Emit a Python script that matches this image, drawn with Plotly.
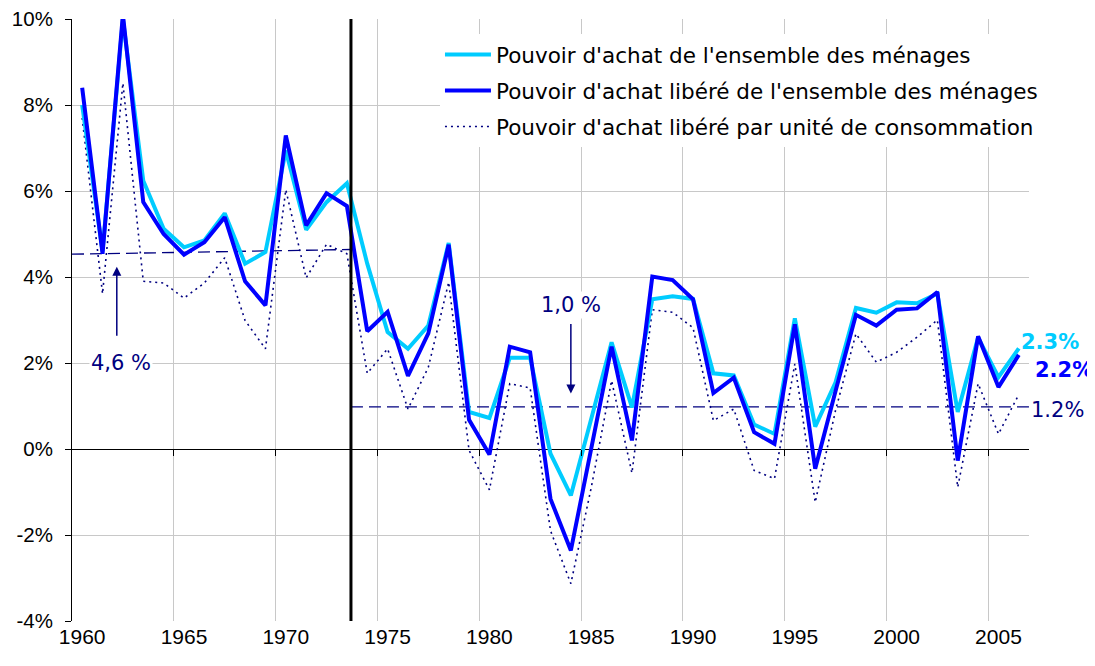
import plotly.graph_objects as go

years = list(range(1960, 2007))
pa_ensemble = [8.0, 4.6, 10.0, 6.24, 5.12, 4.69, 4.85, 5.48, 4.31, 4.58, 6.94, 5.10, 5.74, 6.18,
               4.31, 2.72, 2.33, 2.87, 4.79, 0.86, 0.72, 2.12, 2.12, -0.11, -1.08, 0.74, 2.48, 0.97,
               3.48, 3.55, 3.49, 1.76, 1.71, 0.57, 0.35, 3.04, 0.52, 1.55, 3.28, 3.17, 3.41, 3.39, 3.61,
               0.86, 2.59, 1.67, 2.34]
pa_libere = [8.40, 4.54, 10.1, 5.74, 5.00, 4.52, 4.81, 5.39, 3.90, 3.34, 7.29, 5.20, 5.95, 5.65,
             2.74, 3.19, 1.70, 2.69, 4.75, 0.68, -0.13, 2.38, 2.25, -1.16, -2.36, 0.0, 2.38, 0.20,
             4.01, 3.93, 3.48, 1.30, 1.66, 0.39, 0.12, 2.90, -0.46, 1.35, 3.12, 2.87, 3.24, 3.27, 3.65,
             -0.27, 2.62, 1.44, 2.19]
pa_uc = [7.7, 3.61, 8.51, 3.90, 3.86, 3.51, 3.86, 4.45, 2.99, 2.33, 6.03, 3.98, 4.76, 4.54,
         1.76, 2.33, 0.93, 1.90, 3.88, -0.03, -0.95, 1.52, 1.42, -1.90, -3.13, -0.9, 1.59, -0.56,
         3.24, 3.18, 2.82, 0.66, 0.93, -0.50, -0.69, 1.98, -1.24, 0.9, 2.68, 2.02, 2.25, 2.6, 3.00,
         -0.89, 1.52, 0.35, 1.27]
series_names = ["Pouvoir d'achat de l'ensemble des ménages",
                "Pouvoir d'achat libéré de l'ensemble des ménages",
                "Pouvoir d'achat libéré par unité de consommation"]
end_labels = ["2.3%", "2.2%", "1.2%"]

break_year = 1973.2
period1_x = [1959.5, break_year]
period1_mean = [4.53, 4.64]
period2_x = [break_year, 2006.5]
period2_mean = [0.98, 0.98]
mean_labels = ["4,6 %", "1,0 %"]

x_label_years = list(range(1960, 2006, 5))
x_grid_years = [y + 0.5 for y in range(1964, 2006, 5)]
y_ticks = list(range(-4, 11, 2))
y_ticktext = [f"{v}%" for v in y_ticks]

CYAN = "#00CCFF"
BLUE = "#0000FF"
NAVY = "#000080"
AXFONT = "Liberation Sans, Arial, sans-serif"
TXFONT = "DejaVu Sans, Liberation Sans, sans-serif"

fig = go.Figure()
fig.add_trace(go.Scatter(x=period1_x, y=period1_mean, mode="lines", showlegend=False,
                         line=dict(color=NAVY, width=1.3, dash="12px,6px"), hoverinfo="skip"))
fig.add_trace(go.Scatter(x=period2_x, y=period2_mean, mode="lines", showlegend=False,
                         line=dict(color=NAVY, width=1.3, dash="12px,6px"), hoverinfo="skip"))
fig.add_trace(go.Scatter(x=years, y=pa_uc, mode="lines", name=series_names[2], legendrank=3,
                         legendgroup="c", line=dict(color=NAVY, width=1.6, dash="2px,4px")))
fig.add_trace(go.Scatter(x=years, y=pa_ensemble, mode="lines", name=series_names[0], legendrank=1,
                         legendgroup="a", line=dict(color=CYAN, width=4)))
fig.add_trace(go.Scatter(x=years, y=pa_libere, mode="lines", name=series_names[1], legendrank=2,
                         legendgroup="b", line=dict(color=BLUE, width=4)))
# invisible trace to carry the tick marks along the zero line
fig.add_trace(go.Scatter(x=[years[0]], y=[0], xaxis="x2", mode="markers", showlegend=False,
                         marker=dict(opacity=0), hoverinfo="skip"))

fig.add_shape(type="line", xref="x", yref="paper", x0=break_year, x1=break_year, y0=0, y1=1,
              line=dict(color="black", width=3), layer="above")

# mean annotations
fig.add_annotation(x=1961.7, y=4.24, ax=1961.7, ay=2.6, axref="x", ayref="y", xref="x", yref="y",
                   text="", showarrow=True, arrowhead=2, arrowsize=1.2, arrowwidth=1.5, arrowcolor=NAVY)
fig.add_annotation(x=1961.9, y=2.0, text=mean_labels[0], showarrow=False, bgcolor="white",
                   font=dict(size=21, color=NAVY, family=TXFONT))
fig.add_annotation(x=1984.0, y=1.29, ax=1984.0, ay=2.94, axref="x", ayref="y", xref="x", yref="y",
                   text="", showarrow=True, arrowhead=2, arrowsize=1.2, arrowwidth=1.5, arrowcolor=NAVY)
fig.add_annotation(x=1984.0, y=3.34, text=mean_labels[1], showarrow=False, bgcolor="white",
                   font=dict(size=21, color=NAVY, family=TXFONT))

# end labels (right of the plot area)
fig.add_annotation(x=1.022, xref="paper", xanchor="center", y=2.48, yref="y",
                   text=f"<b>{end_labels[0]}</b>", showarrow=False,
                   font=dict(size=21, color=CYAN, family=TXFONT))
fig.add_annotation(x=1.0366, xref="paper", xanchor="center", y=1.83, yref="y",
                   text=f"<b>{end_labels[1]}</b>", showarrow=False,
                   font=dict(size=21, color=BLUE, family=TXFONT))
fig.add_annotation(x=1.0303, xref="paper", xanchor="center", y=0.90, yref="y",
                   text=end_labels[2], showarrow=False,
                   font=dict(size=21, color=NAVY, family=TXFONT))

fig.update_layout(
    width=1087, height=658,
    margin=dict(l=64, r=66, t=11, b=45, autoexpand=False),
    paper_bgcolor="white", plot_bgcolor="white",
    font=dict(family=AXFONT, size=20, color="black"),
    xaxis=dict(range=[1959.5, 2006.5], tickmode="array", tickvals=x_label_years,
               ticktext=[str(y) for y in x_label_years], ticks="", showgrid=False,
               zeroline=False, showline=False, ticklabelstandoff=1, automargin=False,
               ticklabeloverflow="allow", tickfont=dict(size=21),
               minor=dict(tickmode="array", tickvals=x_grid_years, showgrid=True,
                          gridcolor="#C8C8C8", gridwidth=1, ticks="")),
    xaxis2=dict(range=[1959.5, 2006.5], overlaying="x", anchor="free", position=4 / 14,
                side="bottom", tickmode="array", tickvals=x_grid_years, ticks="outside",
                ticklen=6, tickcolor="black", showticklabels=False, showgrid=False,
                zeroline=False, showline=False, automargin=False),
    yaxis=dict(range=[-4, 10], tickmode="array", tickvals=y_ticks, ticktext=y_ticktext,
               showgrid=True, gridcolor="#C8C8C8", gridwidth=1, zeroline=True,
               zerolinecolor="black", zerolinewidth=1, showline=True, linecolor="black",
               linewidth=1, ticks="outside", ticklen=6, tickcolor="black",
               ticklabelstandoff=8, automargin=False, ticklabeloverflow="allow",
               tickfont=dict(size=20.5)),
    legend=dict(x=0.3845, y=0.975, xanchor="left", yanchor="top", bgcolor="white",
                traceorder="grouped", tracegroupgap=5, itemwidth=46,
                font=dict(size=21.5, family=TXFONT, color="black")),
)

fig.write_html("out.html")
